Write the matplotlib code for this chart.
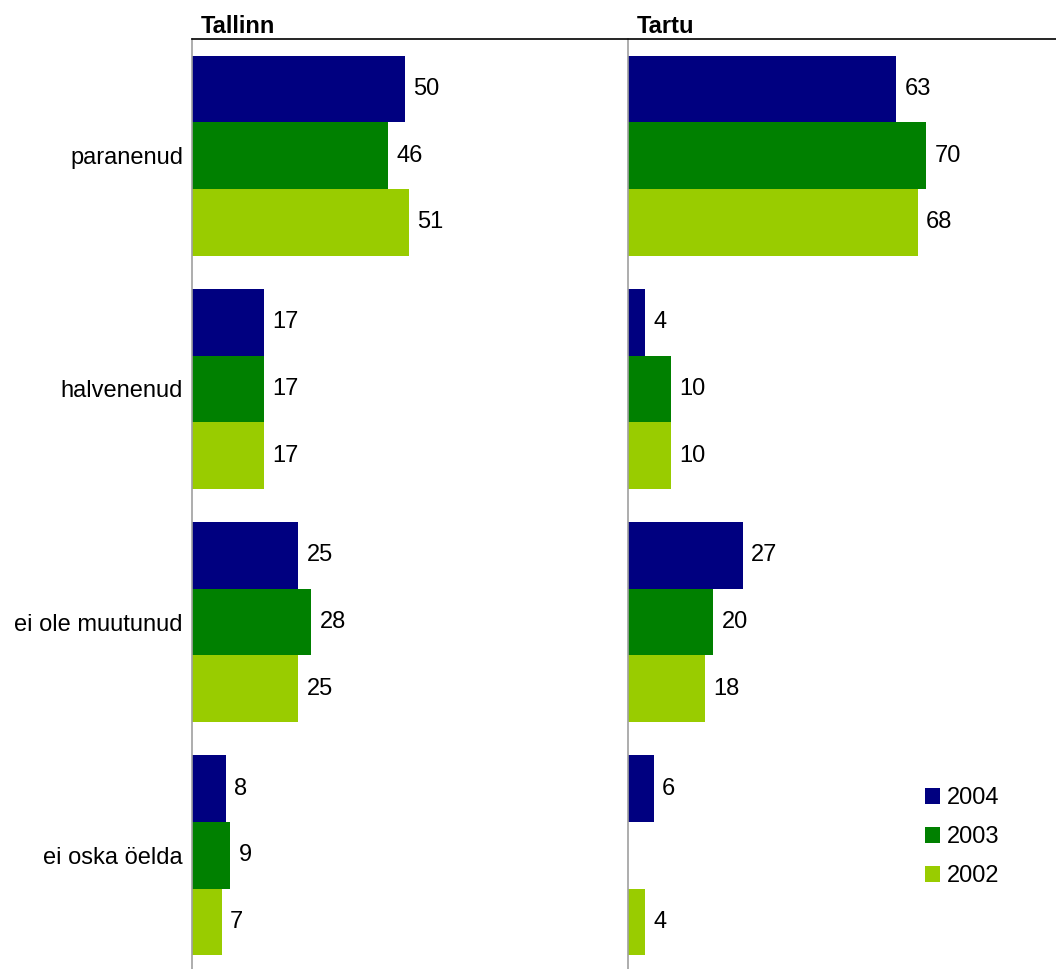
import numpy as np
import matplotlib
matplotlib.use("Agg")
import matplotlib.pyplot as plt
from matplotlib.lines import Line2D

plt.rcParams['font.family'] = ['Liberation Sans', 'DejaVu Sans']

categories = ['paranenud', 'halvenenud', 'ei ole muutunud', 'ei oska öelda']
years = ['2004', '2003', '2002']
colors = ['#000080', '#008000', '#99CC00']

tallinn_2004 = [50, 17, 25, 8]
tallinn_2003 = [46, 17, 28, 9]
tallinn_2002 = [51, 17, 25, 7]

tartu_2004 = [63, 4, 27, 6]
tartu_2003 = [70, 10, 20, np.nan]
tartu_2002 = [68, 10, 18, 4]

panels = [
    ('Tallinn', [tallinn_2004, tallinn_2003, tallinn_2002]),
    ('Tartu', [tartu_2004, tartu_2003, tartu_2002]),
]

W, H = 1056, 969
fig = plt.figure(figsize=(W / 100, H / 100), dpi=100)

top_px = 39
bottom_px = 972
ax_w = 428
lefts = [192, 628]

bar_h = 0.286
y = np.arange(len(categories))
fs = 17

axes = []
for i, (name, series) in enumerate(panels):
    ax = fig.add_axes([lefts[i] / W, 1 - bottom_px / H, ax_w / W, (bottom_px - top_px) / H])
    axes.append(ax)
    for j, vals in enumerate(series):
        vals = np.array(vals, dtype=float)
        pos = y + (j - 1) * bar_h
        ax.barh(pos, vals, height=bar_h, color=colors[j], label=years[j], linewidth=0)
        for p, v in zip(pos, vals):
            if np.isnan(v):
                continue
            ax.annotate(f'{v:.0f}', (v, p), xytext=(6, 0), textcoords='offset points',
                        va='center', ha='left', fontsize=fs)
    ax.set_xlim(0, 100.5)
    ax.set_ylim(3.5, -0.5)
    ax.set_xticks([])
    for s in ['top', 'right', 'bottom']:
        ax.spines[s].set_visible(False)
    ax.spines['left'].set_color('#A0A0A0')
    ax.spines['left'].set_linewidth(1.2)
    ax.set_yticks(y)
    if i == 0:
        ax.set_yticklabels(categories, fontsize=fs)
        ax.tick_params(axis='y', length=0, pad=6.5)
    else:
        ax.set_yticklabels([])
        ax.tick_params(axis='y', length=0)
    ax.annotate(name, (0, 1), xycoords='axes fraction', xytext=(6, 4.5),
                textcoords='offset points', ha='left', va='baseline',
                fontsize=fs, fontweight='bold')

# top rule across both panels
fig.add_artist(Line2D([192 / W, 1.0], [1 - top_px / H, 1 - top_px / H],
                      color='black', linewidth=1.2, transform=fig.transFigure))

handles, labels = axes[1].get_legend_handles_labels()
fig.legend(handles, labels, loc='upper left',
           bbox_to_anchor=(925 / W, 1 - 787 / H), frameon=False, fontsize=fs,
           handlelength=0.64, handleheight=0.64, handletextpad=0.3,
           labelspacing=0.72, borderpad=0, borderaxespad=0)

fig.savefig('out.png', dpi=100)
